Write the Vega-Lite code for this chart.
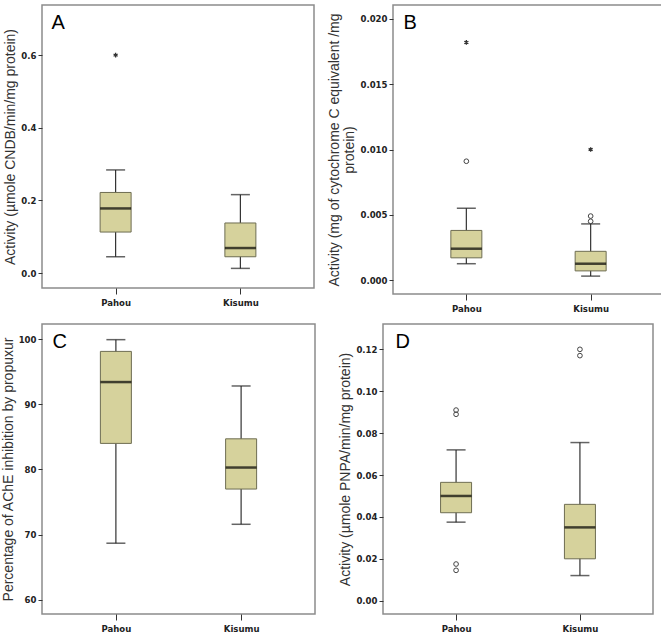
{
  "$schema": "https://vega.github.io/schema/vega-lite/v6.json",
  "padding": {"left": 0, "top": 4, "right": 0, "bottom": 0},
  "background": "white",
  "datasets": {
    "boxA": [
      {"group": "Pahou", "lower": 0.045, "q1": 0.113, "median": 0.178, "q3": 0.222, "upper": 0.284},
      {"group": "Kisumu", "lower": 0.013, "q1": 0.045, "median": 0.069, "q3": 0.138, "upper": 0.216}
    ],
    "outA": [
      {"group": "Pahou", "value": 0.6, "kind": "star"}
    ],
    "boxB": [
      {"group": "Pahou", "lower": 0.00125, "q1": 0.0017, "median": 0.0024, "q3": 0.0038, "upper": 0.0055},
      {"group": "Kisumu", "lower": 0.0003, "q1": 0.0007, "median": 0.00125, "q3": 0.0022, "upper": 0.0043}
    ],
    "outB": [
      {"group": "Pahou", "value": 0.0091, "kind": "circle"},
      {"group": "Pahou", "value": 0.0182, "kind": "star"},
      {"group": "Kisumu", "value": 0.0045, "kind": "circle"},
      {"group": "Kisumu", "value": 0.0049, "kind": "circle"},
      {"group": "Kisumu", "value": 0.0100, "kind": "star"}
    ],
    "boxC": [
      {"group": "Pahou", "lower": 68.7, "q1": 84.0, "median": 93.4, "q3": 98.1, "upper": 99.9},
      {"group": "Kisumu", "lower": 71.6, "q1": 77.0, "median": 80.3, "q3": 84.7, "upper": 92.8}
    ],
    "boxD": [
      {"group": "Pahou", "lower": 0.0375, "q1": 0.042, "median": 0.050, "q3": 0.0565, "upper": 0.072},
      {"group": "Kisumu", "lower": 0.012, "q1": 0.020, "median": 0.035, "q3": 0.046, "upper": 0.0755}
    ],
    "outD": [
      {"group": "Pahou", "value": 0.089, "kind": "circle"},
      {"group": "Pahou", "value": 0.091, "kind": "circle"},
      {"group": "Pahou", "value": 0.0145, "kind": "circle"},
      {"group": "Pahou", "value": 0.0175, "kind": "circle"},
      {"group": "Kisumu", "value": 0.117, "kind": "circle"},
      {"group": "Kisumu", "value": 0.120, "kind": "circle"}
    ]
  },
  "vconcat": [
    {
      "hconcat": [
        {
          "width": 272, "height": 283,
          "encoding": {
            "x": {"field": "group", "type": "nominal", "sort": ["Pahou", "Kisumu"], "scale": {"type": "point", "padding": 0.59}, "axis": {"title": "A", "titleX": 9, "titleY": -260}}
          },
          "layer": [
            {"data": {"name": "boxA"}, "mark": {"type": "rule", "color": "#333", "strokeWidth": 1.2}, "encoding": {"y": {"field": "lower", "type": "quantitative", "scale": {"domain": [-0.041, 0.738], "nice": false, "zero": false}, "axis": {"values": [0, 0.2, 0.4, 0.6], "format": ".1f", "title": "Activity (µmole CNDB/min/mg protein)"}}, "y2": {"field": "upper"}}},
            {"data": {"name": "boxA"}, "mark": {"type": "tick", "color": "#222", "size": 19, "thickness": 1.5}, "encoding": {"y": {"field": "lower", "type": "quantitative"}}},
            {"data": {"name": "boxA"}, "mark": {"type": "tick", "color": "#222", "size": 19, "thickness": 1.5}, "encoding": {"y": {"field": "upper", "type": "quantitative"}}},
            {"data": {"name": "boxA"}, "mark": {"type": "bar", "width": 31, "fill": "#d6d29c", "stroke": "#6e6d52", "strokeWidth": 1}, "encoding": {"y": {"field": "q1", "type": "quantitative"}, "y2": {"field": "q3"}}},
            {"data": {"name": "boxA"}, "mark": {"type": "tick", "color": "#000", "size": 31, "thickness": 2.5}, "encoding": {"y": {"field": "median", "type": "quantitative"}}},
            {"data": {"name": "outA"}, "transform": [{"filter": "datum.kind === 'star'"}], "mark": {"type": "point", "shape": "M0,-1L0,1M-0.87,-0.5L0.87,0.5M-0.87,0.5L0.87,-0.5", "filled": false, "stroke": "#333", "strokeWidth": 1.3, "size": 22, "opacity": 1}, "encoding": {"y": {"field": "value", "type": "quantitative"}}}
          ]
        },
        {
          "width": 271, "height": 289,
          "encoding": {
            "x": {"field": "group", "type": "nominal", "sort": ["Pahou", "Kisumu"], "scale": {"type": "point", "padding": 0.59}, "axis": {"title": "B", "titleX": 10, "titleY": -266}}
          },
          "layer": [
            {"data": {"name": "boxB"}, "mark": {"type": "rule", "color": "#333", "strokeWidth": 1.2}, "encoding": {"y": {"field": "lower", "type": "quantitative", "scale": {"domain": [-0.00107, 0.02107], "nice": false, "zero": false}, "axis": {"values": [0, 0.005, 0.01, 0.015, 0.02], "format": ".3f", "title": ["Activity (mg of cytochrome C equivalent /mg", "protein)"], "titleLineHeight": 15}}, "y2": {"field": "upper"}}},
            {"data": {"name": "boxB"}, "mark": {"type": "tick", "color": "#222", "size": 19, "thickness": 1.5}, "encoding": {"y": {"field": "lower", "type": "quantitative"}}},
            {"data": {"name": "boxB"}, "mark": {"type": "tick", "color": "#222", "size": 19, "thickness": 1.5}, "encoding": {"y": {"field": "upper", "type": "quantitative"}}},
            {"data": {"name": "boxB"}, "mark": {"type": "bar", "width": 31, "fill": "#d6d29c", "stroke": "#6e6d52", "strokeWidth": 1}, "encoding": {"y": {"field": "q1", "type": "quantitative"}, "y2": {"field": "q3"}}},
            {"data": {"name": "boxB"}, "mark": {"type": "tick", "color": "#000", "size": 31, "thickness": 2.5}, "encoding": {"y": {"field": "median", "type": "quantitative"}}},
            {"data": {"name": "outB"}, "transform": [{"filter": "datum.kind === 'circle'"}], "mark": {"type": "point", "shape": "circle", "filled": false, "stroke": "#444", "strokeWidth": 1, "size": 22, "opacity": 1}, "encoding": {"y": {"field": "value", "type": "quantitative"}}},
            {"data": {"name": "outB"}, "transform": [{"filter": "datum.kind === 'star'"}], "mark": {"type": "point", "shape": "M0,-1L0,1M-0.87,-0.5L0.87,0.5M-0.87,0.5L0.87,-0.5", "filled": false, "stroke": "#333", "strokeWidth": 1.3, "size": 22, "opacity": 1}, "encoding": {"y": {"field": "value", "type": "quantitative"}}}
          ]
        }
      ],
      "spacing": 12
    },
    {
      "hconcat": [
        {
          "width": 273, "height": 290,
          "encoding": {
            "x": {"field": "group", "type": "nominal", "sort": ["Pahou", "Kisumu"], "scale": {"type": "point", "padding": 0.59}, "axis": {"title": "C", "titleX": 10, "titleY": -267}}
          },
          "layer": [
            {"data": {"name": "boxC"}, "mark": {"type": "rule", "color": "#333", "strokeWidth": 1.2}, "encoding": {"y": {"field": "lower", "type": "quantitative", "scale": {"domain": [57.85, 102.3], "nice": false, "zero": false}, "axis": {"values": [60, 70, 80, 90, 100], "format": "d", "title": "Percentage of AChE inhibition by propuxur"}}, "y2": {"field": "upper"}}},
            {"data": {"name": "boxC"}, "mark": {"type": "tick", "color": "#222", "size": 19, "thickness": 1.5}, "encoding": {"y": {"field": "lower", "type": "quantitative"}}},
            {"data": {"name": "boxC"}, "mark": {"type": "tick", "color": "#222", "size": 19, "thickness": 1.5}, "encoding": {"y": {"field": "upper", "type": "quantitative"}}},
            {"data": {"name": "boxC"}, "mark": {"type": "bar", "width": 31, "fill": "#d6d29c", "stroke": "#6e6d52", "strokeWidth": 1}, "encoding": {"y": {"field": "q1", "type": "quantitative"}, "y2": {"field": "q3"}}},
            {"data": {"name": "boxC"}, "mark": {"type": "tick", "color": "#000", "size": 31, "thickness": 2.5}, "encoding": {"y": {"field": "median", "type": "quantitative"}}}
          ]
        },
        {
          "width": 270, "height": 290,
          "encoding": {
            "x": {"field": "group", "type": "nominal", "sort": ["Pahou", "Kisumu"], "scale": {"type": "point", "padding": 0.59}, "axis": {"title": "D", "titleX": 12, "titleY": -267}}
          },
          "layer": [
            {"data": {"name": "boxD"}, "mark": {"type": "rule", "color": "#333", "strokeWidth": 1.2}, "encoding": {"y": {"field": "lower", "type": "quantitative", "scale": {"domain": [-0.00635, 0.1321], "nice": false, "zero": false}, "axis": {"values": [0, 0.02, 0.04, 0.06, 0.08, 0.1, 0.12], "format": ".2f", "title": "Activity (µmole PNPA/min/mg protein)"}}, "y2": {"field": "upper"}}},
            {"data": {"name": "boxD"}, "mark": {"type": "tick", "color": "#222", "size": 19, "thickness": 1.5}, "encoding": {"y": {"field": "lower", "type": "quantitative"}}},
            {"data": {"name": "boxD"}, "mark": {"type": "tick", "color": "#222", "size": 19, "thickness": 1.5}, "encoding": {"y": {"field": "upper", "type": "quantitative"}}},
            {"data": {"name": "boxD"}, "mark": {"type": "bar", "width": 31, "fill": "#d6d29c", "stroke": "#6e6d52", "strokeWidth": 1}, "encoding": {"y": {"field": "q1", "type": "quantitative"}, "y2": {"field": "q3"}}},
            {"data": {"name": "boxD"}, "mark": {"type": "tick", "color": "#000", "size": 31, "thickness": 2.5}, "encoding": {"y": {"field": "median", "type": "quantitative"}}},
            {"data": {"name": "outD"}, "mark": {"type": "point", "shape": "circle", "filled": false, "stroke": "#444", "strokeWidth": 1, "size": 22, "opacity": 1}, "encoding": {"y": {"field": "value", "type": "quantitative"}}}
          ]
        }
      ],
      "spacing": 22
    }
  ],
  "spacing": 9,
  "config": {
    "view": {"stroke": "#8c8c8c", "strokeWidth": 1.5},
    "axis": {"grid": false, "domain": false, "tickColor": "#333", "labelFont": "DejaVu Sans Condensed, Liberation Sans", "labelFontWeight": "bold", "labelFontSize": 9.5, "labelColor": "#222", "titleFont": "Liberation Sans", "titleFontWeight": "normal", "titleFontSize": 14, "titleColor": "#333"},
    "axisX": {"tickSize": 6, "labelPadding": 3, "labelAngle": 0, "titleFontSize": 20, "titleColor": "#000", "titleAlign": "left", "titleBaseline": "alphabetic", "titleAngle": 0, "titleAnchor": "start"},
    "axisY": {"tickSize": 4, "labelPadding": 2, "titlePadding": 3}
  }
}
